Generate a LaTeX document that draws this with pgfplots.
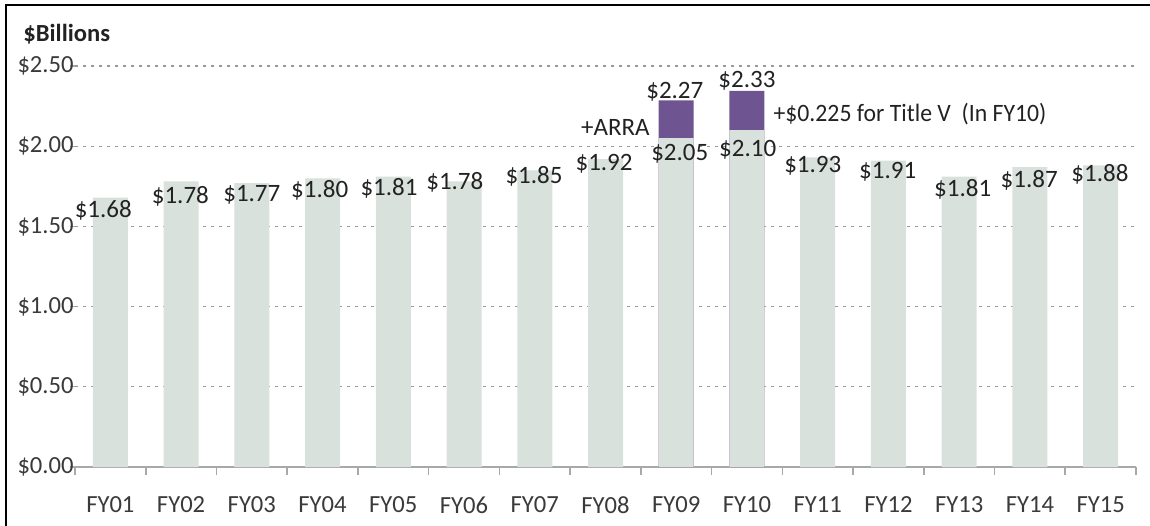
\documentclass[border=0pt]{standalone}
\usepackage{pgfplots}
\pgfplotsset{compat=1.18}
\usepackage{fontspec}
\setmainfont{Carlito}
\newfontfamily\narrowfont[FakeStretch=0.95]{Carlito}
\definecolor{barg}{HTML}{D9E1DD}
\definecolor{arra}{HTML}{6E5490}
\definecolor{txt}{HTML}{222222}
\definecolor{tickc}{HTML}{3A3A3A}
\definecolor{axisg}{HTML}{A8A8A8}
\definecolor{gridg}{HTML}{9A9A9A}
\tikzset{lbl/.style={font=\fontsize{12.5}{14}\selectfont, text=txt, inner sep=0pt}}
\begin{document}
\begin{tikzpicture}
\useasboundingbox (-37.5pt,-29pt) rectangle (537.5pt,233.5pt);
\begin{axis}[
  at={(0,0)}, anchor=south west,
  scale only axis, width=530.5pt, height=200.5pt,
  xmin=-0.5, xmax=14.5, ymin=0, ymax=2.5,
  clip=false,
  axis lines*=left,
  y axis line style={draw=none},
  x axis line style={axisg, line width=0.8pt},
  ytick={0,0.5,1,1.5,2,2.5},
  yticklabels={\$0.00,\$0.50,\$1.00,\$1.50,\$2.00,\$2.50},
  xtick={0,...,14},
  xticklabels={FY01,FY02,FY03,FY04,FY05,FY06,FY07,FY08,FY09,FY10,FY11,FY12,FY13,FY14,FY15},
  minor xtick={-0.5,0.5,...,14.5},
  tick align=outside,
  major tick length=2.5pt, minor tick length=4pt,
  major x tick style={draw=none},
  minor x tick style={axisg, line width=0.8pt},
  ytick style={axisg, line width=0.6pt},
  ymajorgrids=true,
  major grid style={gridg, line width=0.6pt, dash pattern=on 1.3pt off 2.7pt},
  tick label style={font=\fontsize{12.3}{14}\selectfont, text=tickc},
  yticklabel style={inner sep=0pt, xshift=2pt},
  xticklabel style={inner sep=0pt, yshift=-12pt},
]
\addplot[ybar, bar width=17.5pt, bar shift=0pt, fill=arra, draw=none]
  coordinates {(8,2.285) (9,2.345)};
\addplot[ybar, bar width=17.5pt, bar shift=0pt, fill=barg, draw=none]
  coordinates {(0,1.68) (1,1.78) (2,1.77) (3,1.80) (4,1.81) (5,1.78) (6,1.85) (7,1.92)
               (8,2.05) (9,2.10) (10,1.93) (11,1.91) (12,1.81) (13,1.87) (14,1.88)};
\node[lbl] at (axis cs:-0.10,1.60) {\$1.68};
\node[lbl] at (axis cs:0.99,1.69) {\$1.78};
\node[lbl] at (axis cs:2.00,1.695) {\$1.77};
\node[lbl] at (axis cs:2.96,1.727) {\$1.80};
\node[lbl] at (axis cs:3.94,1.74) {\$1.81};
\node[lbl] at (axis cs:4.87,1.775) {\$1.78};
\node[lbl] at (axis cs:5.99,1.81) {\$1.85};
\node[lbl] at (axis cs:6.98,1.89) {\$1.92};
\node[lbl] at (axis cs:8.05,1.95) {\$2.05};
\node[lbl] at (axis cs:9.01,1.98) {\$2.10};
\node[lbl] at (axis cs:9.93,1.877) {\$1.93};
\node[lbl] at (axis cs:10.99,1.84) {\$1.91};
\node[lbl] at (axis cs:12.05,1.73) {\$1.81};
\node[lbl] at (axis cs:12.99,1.79) {\$1.87};
\node[lbl] at (axis cs:13.99,1.825) {\$1.88};
\node[lbl] at (axis cs:7.98,2.34) {\$2.27};
\node[lbl] at (axis cs:9.00,2.41) {\$2.33};
\node[lbl, anchor=east] at (axis cs:7.63,2.116) {+ARRA};
\node[lbl, anchor=west, font=\fontsize{12.5}{14}\narrowfont] at (axis cs:9.37,2.20) {+\$0.225 for Title V\ \ (In FY10)};
\end{axis}
\node[anchor=base west, inner sep=0pt, text=txt, font=\fontsize{12.3}{14}\selectfont\bfseries] at (-26pt,212.5pt) {\$Billions};
\draw[line width=1pt] (-34.5pt,-40pt) -- (-34.5pt,231pt) -- (560pt,231pt);
\end{tikzpicture}
\end{document}
